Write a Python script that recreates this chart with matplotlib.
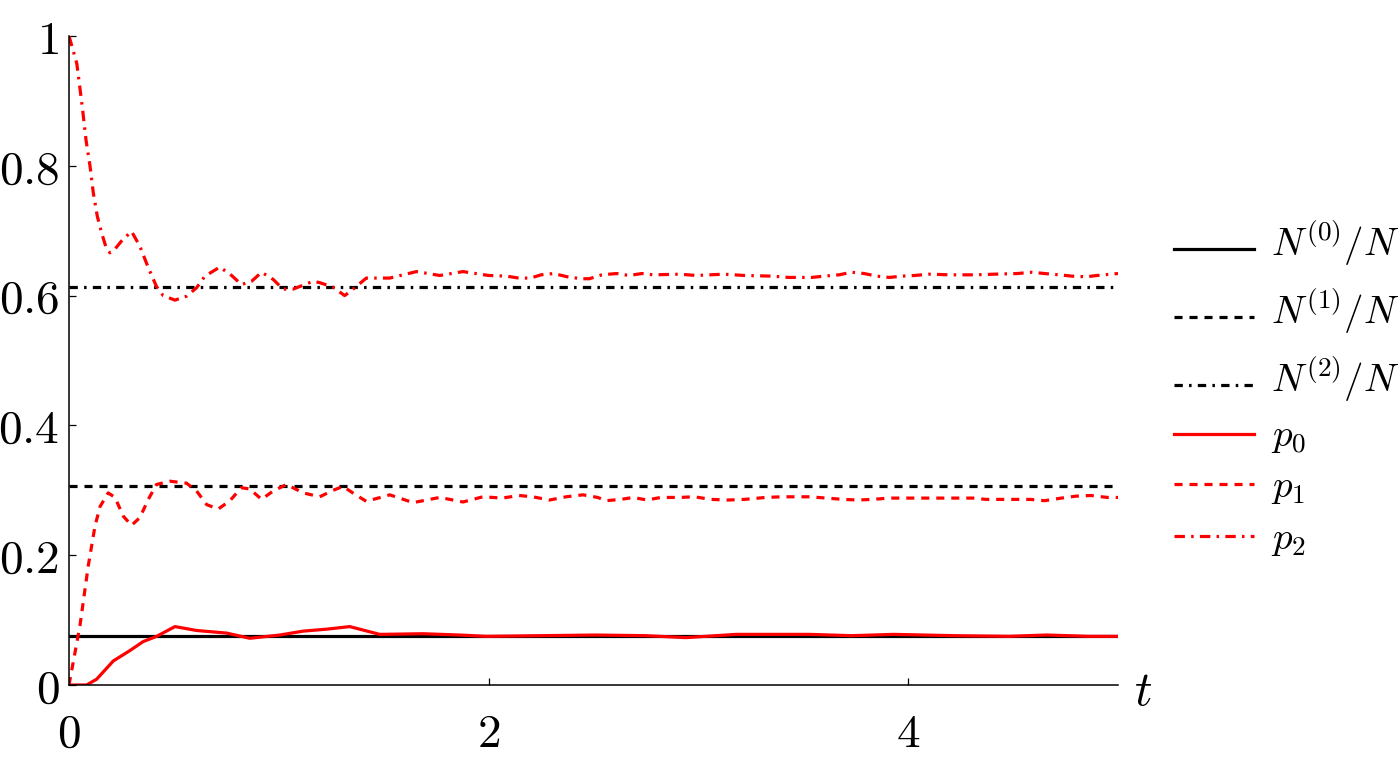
import numpy as np
import matplotlib
matplotlib.use("Agg")
import matplotlib.pyplot as plt
from matplotlib.lines import Line2D

plt.rcParams['mathtext.fontset'] = 'cm'
plt.rcParams['font.family'] = 'serif'
plt.rcParams['font.serif'] = ['DejaVu Serif']
plt.rcParams['lines.scale_dashes'] = False

# steady state fractions N^(k)/N
N0 = 0.076
N1 = 0.307
N2 = 0.614

# p2(t)
p2_t = [0, 0.037, 0.052, 0.065, 0.081, 0.1, 0.116, 0.135, 0.156, 0.175, 0.195, 0.22, 0.25,
        0.298, 0.338, 0.378, 0.417, 0.449, 0.505, 0.56, 0.608, 0.648, 0.719, 0.775, 0.822,
        0.87, 0.918, 0.973, 1.02, 1.068, 1.163, 1.195, 1.258, 1.314, 1.362, 1.417, 1.529,
        1.656, 1.767, 1.878, 2.0, 2.085, 2.144, 2.2, 2.25, 2.31, 2.375, 2.44, 2.48, 2.54,
        2.61, 2.67, 2.73, 2.785, 2.91, 2.99, 3.12, 3.22, 3.35, 3.43, 3.54, 3.6, 3.67, 3.73,
        3.79, 3.85, 3.91, 3.97, 4.03, 4.1, 4.2, 4.32, 4.41, 4.52, 4.59, 4.65, 4.72, 4.78,
        4.85, 4.9, 5.0]
p2_v = [1.0, 0.958, 0.92, 0.886, 0.84, 0.80, 0.758, 0.722, 0.696, 0.676, 0.666, 0.672, 0.684,
        0.699, 0.676, 0.643, 0.614, 0.600, 0.593, 0.599, 0.612, 0.630, 0.644, 0.631, 0.617,
        0.622, 0.636, 0.625, 0.610, 0.610, 0.622, 0.620, 0.613, 0.600, 0.612, 0.627, 0.627,
        0.637, 0.631, 0.637, 0.631, 0.630, 0.627, 0.627, 0.632, 0.634, 0.629, 0.626, 0.626, 0.632,
        0.634, 0.631, 0.634, 0.632, 0.633, 0.631, 0.633, 0.631, 0.630, 0.628, 0.628, 0.630, 0.632, 0.636,
        0.634, 0.630, 0.628, 0.630, 0.631, 0.633, 0.632, 0.632, 0.633, 0.634, 0.636, 0.634, 0.632, 0.630,
        0.629, 0.631, 0.634]

# p1(t)
p1_t = [0, 0.052, 0.092, 0.124, 0.148, 0.187, 0.219, 0.259, 0.298, 0.338, 0.378, 0.417,
        0.481, 0.56, 0.608, 0.656, 0.711, 0.767, 0.822, 0.862, 0.918, 0.973, 1.037, 1.116,
        1.195, 1.259, 1.306, 1.362, 1.417, 1.529, 1.64, 1.767, 1.878, 1.973, 2.065, 2.145,
        2.21, 2.29, 2.37, 2.45, 2.52, 2.56, 2.63, 2.69, 2.755, 2.82, 2.91, 2.98, 3.06, 3.14,
        3.22, 3.32, 3.4, 3.53, 3.61, 3.69, 3.76, 3.83, 3.91, 4.01, 4.09, 4.17, 4.23, 4.31,
        4.37, 4.44, 4.52, 4.58, 4.65, 4.73, 4.8, 4.87, 4.95, 5.0]
p1_v = [0.0, 0.091, 0.184, 0.245, 0.275, 0.296, 0.289, 0.26, 0.246, 0.258, 0.286, 0.309,
        0.314, 0.311, 0.299, 0.278, 0.271, 0.284, 0.304, 0.302, 0.286, 0.299, 0.309, 0.296,
        0.290, 0.300, 0.306, 0.294, 0.283, 0.293, 0.281, 0.289, 0.282, 0.290, 0.288, 0.292,
        0.290, 0.285, 0.290, 0.293, 0.289, 0.284, 0.286, 0.289, 0.285, 0.289, 0.289, 0.290, 0.286, 0.285,
        0.286, 0.289, 0.290, 0.290, 0.288, 0.286, 0.285, 0.286, 0.288, 0.288, 0.288, 0.288, 0.288, 0.288,
        0.286, 0.286, 0.286, 0.286, 0.284, 0.288, 0.291, 0.292, 0.289, 0.289]

# p0(t)
p0_t = [0, 0.084, 0.132, 0.211, 0.29, 0.354, 0.418, 0.505, 0.608, 0.751, 0.862, 1.005,
        1.116, 1.227, 1.338, 1.481, 1.687, 1.862, 1.989, 2.25, 2.51, 2.75, 2.94, 3.18,
        3.53, 3.73, 3.93, 4.22, 4.48, 4.66, 4.86, 5.0]
p0_v = [0.0, 0.0, 0.009, 0.037, 0.053, 0.067, 0.075, 0.090, 0.084, 0.080, 0.072, 0.077,
        0.083, 0.086, 0.090, 0.078, 0.079, 0.077, 0.075, 0.076, 0.077, 0.076, 0.073, 0.078,
        0.078, 0.076, 0.078, 0.076, 0.075, 0.077, 0.075, 0.075]

xticks = [0, 2, 4]
yticks = [0, 0.2, 0.4, 0.6, 0.8, 1]
ytick_labels = ['$0$', '$0.2$', '$0.4$', '$0.6$', '$0.8$', '$1$']
legend_labels = ['$N^{(0)}/N$', '$N^{(1)}/N$', '$N^{(2)}/N$', '$p_0$', '$p_1$', '$p_2$']

dash = (0, (5.8, 5.0))
dashdot = (0, (6.0, 4.5, 1.8, 4.5))
dashdot_red = (0, (7.5, 4.5, 1.8, 4.5))

W, H = 1398, 766
fig = plt.figure(figsize=(W / 100, H / 100), dpi=100, facecolor='white')
ax = fig.add_axes([69 / W, 1 - 685 / H, (1118 - 69) / W, (685 - 36) / H])

lw = 2.3
styles = [('black', '-'), ('black', dash), ('black', dashdot),
          ('red', '-'), ('red', dash), ('red', dashdot_red)]

ax.axhline(N0, color='black', lw=lw, ls='-')
ax.axhline(N1, color='black', lw=lw, ls=dash)
ax.axhline(N2, color='black', lw=lw, ls=dashdot)
ax.plot(p0_t, p0_v, color='red', lw=lw, ls='-')
ax.plot(p1_t, p1_v, color='red', lw=lw, ls=dash)
ax.plot(p2_t, p2_v, color='red', lw=lw, ls=dashdot_red)

ax.set_xlim(0, 5)
ax.set_ylim(0, 1)
for s in ['top', 'right']:
    ax.spines[s].set_visible(False)
for s in ['left', 'bottom']:
    ax.spines[s].set_linewidth(1.1)

ax.set_xticks(xticks)
ax.set_xticklabels(['$%d$' % v for v in xticks])
ax.set_yticks(yticks)
ax.set_yticklabels(ytick_labels)
ax.tick_params(axis='both', direction='in', length=5, width=0.9, labelsize=34)
ax.tick_params(axis='y', pad=7)
ax.tick_params(axis='x', pad=19)

ax.set_xlabel('$t$', fontsize=35, va='center')
ax.xaxis.set_label_coords(1.024, -0.01)

# legend drawn by hand so the row spacing follows the original
line_y = [249, 317, 385, 434, 484, 536]
base_y = [256, 324, 392, 447, 497, 549]
for (c, ls), lab, ly, by in zip(styles, legend_labels, line_y, base_y):
    fig.add_artist(Line2D([1174 / W, 1254 / W], [1 - ly / H, 1 - ly / H],
                          color=c, ls=ls, lw=lw, transform=fig.transFigure))
    fig.text(1271 / W, 1 - by / H, lab, fontsize=28, ha='left', va='baseline')

fig.savefig('out.png', dpi=100)
